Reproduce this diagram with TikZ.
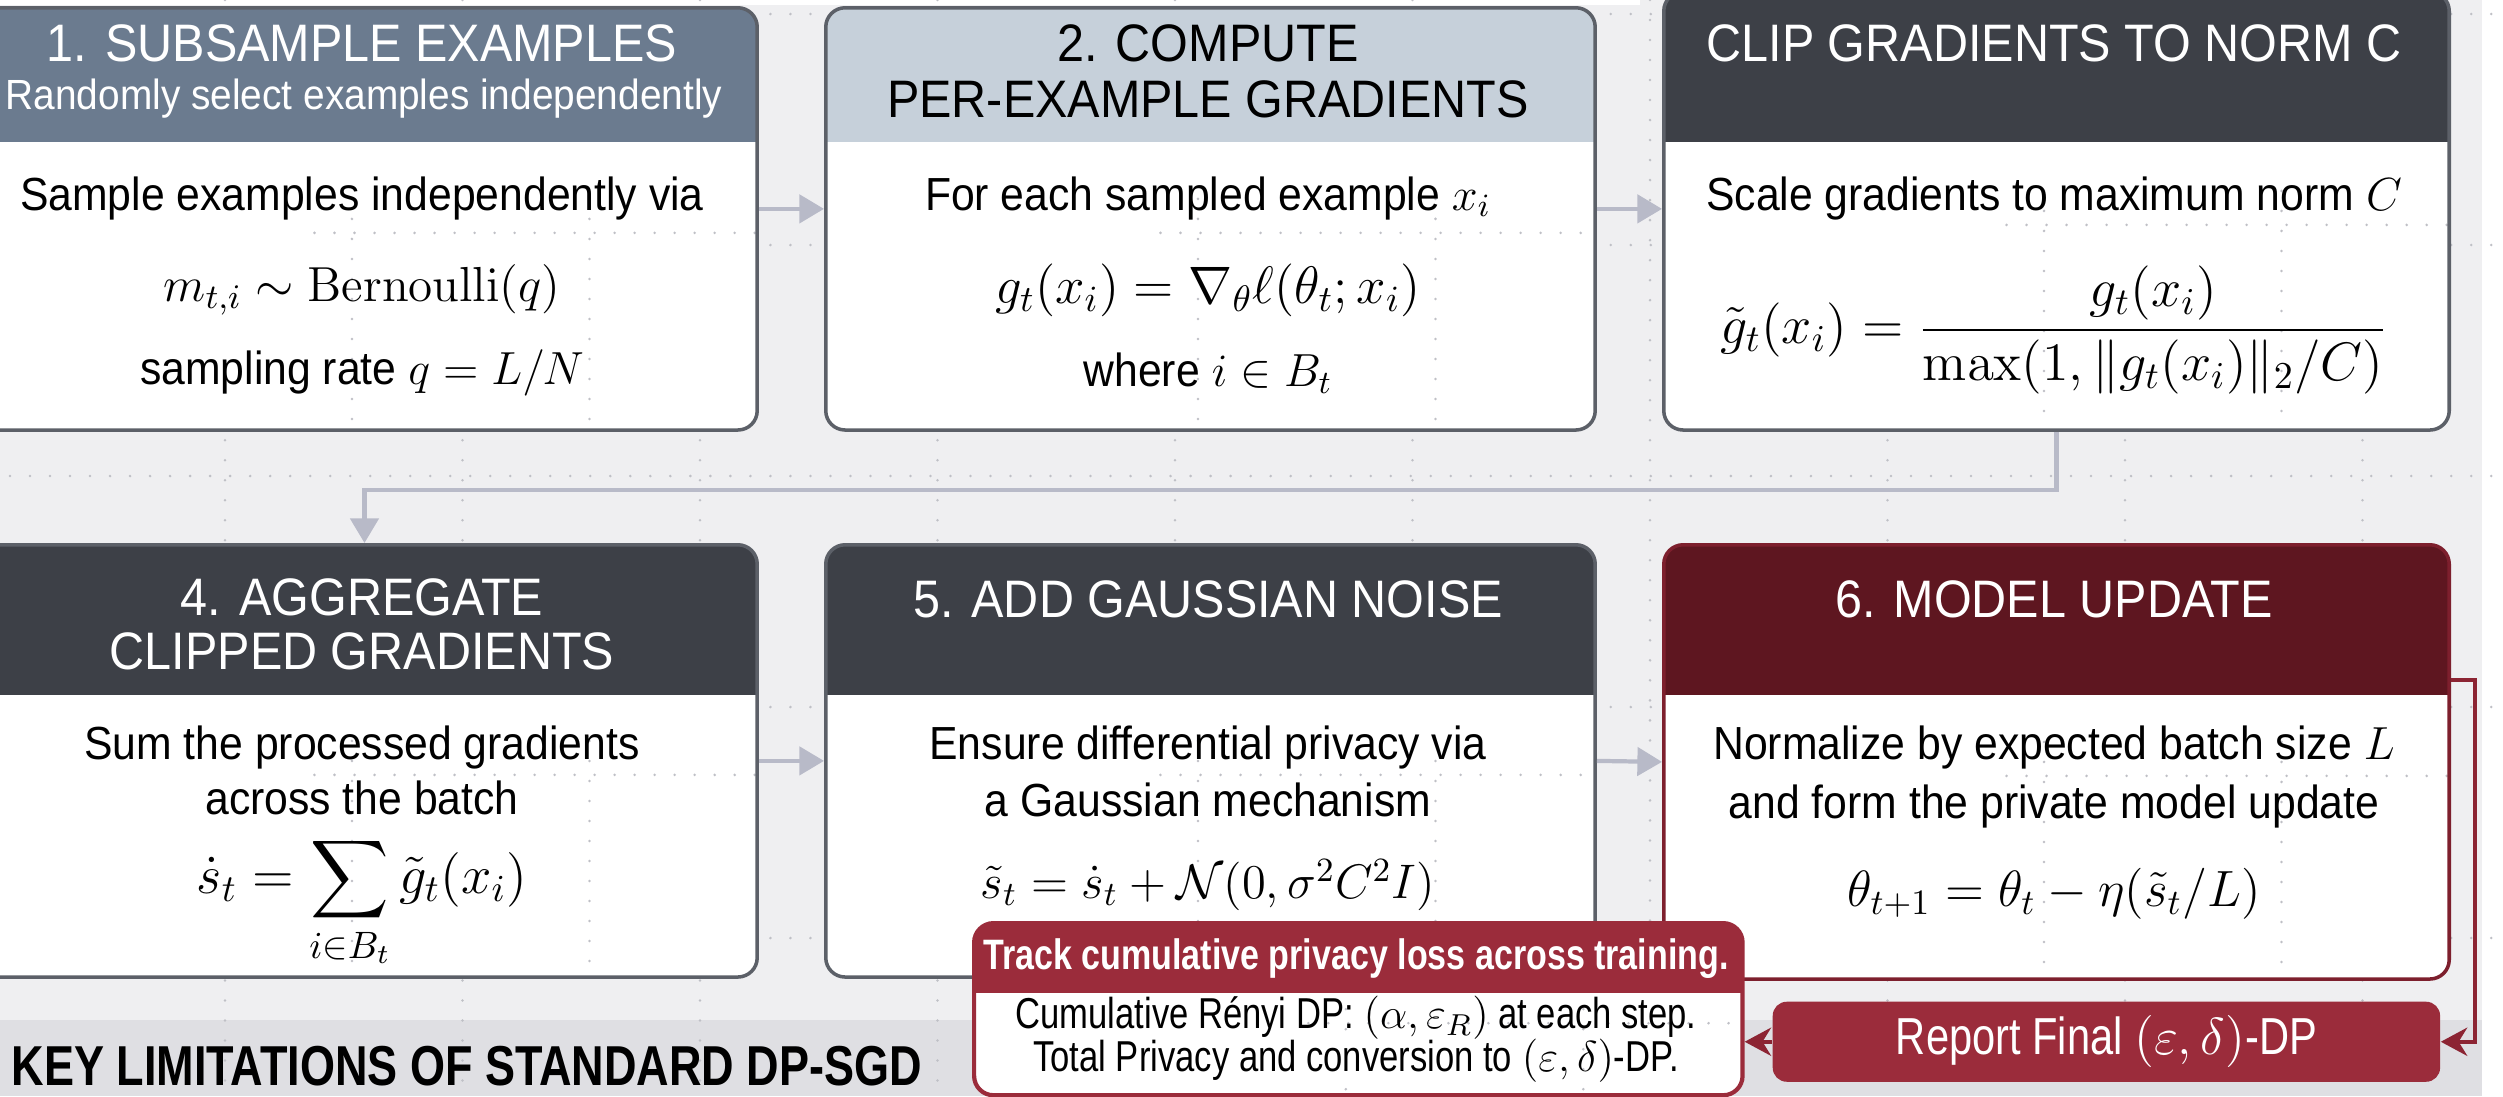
\RequirePackage{fix-cm}
\documentclass[tikz,border=0pt]{standalone}
\usepackage{amsmath,amssymb}
\usepackage[no-math]{fontspec}
\setmainfont{Liberation Sans}[FakeStretch=0.92]
\newfontfamily\condfont{Liberation Sans}[FakeStretch=0.8]
\usetikzlibrary{arrows.meta}

\definecolor{bgc}{HTML}{EFEFF1}
\definecolor{bandc}{HTML}{DFDFE3}
\definecolor{gridc}{HTML}{BFC0C6}
\definecolor{cardedge}{HTML}{5C6068}
\definecolor{hdrslate}{HTML}{6B7B8F}
\definecolor{hdrpale}{HTML}{C6D0DA}
\definecolor{hdrdark}{HTML}{3D4047}
\definecolor{hdrwine}{HTML}{5E1620}
\definecolor{wineedge}{HTML}{7D1F2D}
\definecolor{crimson}{HTML}{9B2C3B}
\definecolor{flowc}{HTML}{B8BAC8}
\definecolor{redline}{HTML}{8C2433}

% dotted layout grid
\newcommand\gridlines{%
  \foreach \gx in {-12.5,225,...,2400} \draw[gridline] (\gx,-20) -- (\gx,1120);
  \foreach \gy in {14,245,...,1100} \draw[gridline] (-50,\gy) -- (2560,\gy);
}

\tikzset{
  gridline/.style={draw=gridc, line width=0.8pt, line cap=round, dash pattern=on 0pt off 5.69pt},
  hdr fill/.store in=\hdrfill, hdr height/.store in=\hdrheight,
  hdr fill=white, hdr height=0cm,
  card/.style={rectangle, anchor=north west, inner sep=0pt, rounded corners=5.5pt,
    fill=white, draw=cardedge, line width=1pt,
    path picture={\gridlines
      \fill[sharp corners, fill=\hdrfill] (path picture bounding box.north west)
        rectangle ([yshift=-\hdrheight]path picture bounding box.north east);}},
  hdtext/.style={font=\fontsize{15}{18}\selectfont, text=white, inner sep=0pt},
  subtext/.style={font=\fontsize{12}{14}\selectfont, text=white, inner sep=0pt},
  bodytext/.style={font=\fontsize{13.2}{16}\selectfont, text=black, inner sep=0pt},
  mathtext/.style={font=\fontsize{14.5}{17}\selectfont, text=black, inner sep=0pt},
  notetext/.style={font=\condfont\fontsize{12.3}{14}\selectfont, text=black, inner sep=0pt},
  flow/.style={draw=flowc, line width=1.2pt, -{Triangle[length=7pt,width=8pt]}},
  redflow/.style={draw=redline, line width=1.2pt, -{Stealth[length=7.5pt,width=8pt]}},
}

\begin{document}
\begin{tikzpicture}[x=0.01cm,y=-0.01cm]
\path[use as bounding box] (0,0) rectangle (2503,1096);
\clip (0,0) rectangle (2503,1096);

% background, lower band and margins
\fill[bgc] (0,0) rectangle (2482,1096);
\fill[bandc] (0,1020) rectangle (2482,1096);
\fill[white] (2482,0) rectangle (2503,1096);
\fill[white] (0,0) rectangle (1640,5);
\gridlines

% step cards
\node[card, hdr fill=hdrslate, hdr height=1.34cm, minimum width=7.85cm, minimum height=4.22cm] (b1) at (-30,6) {};
\node[card, hdr fill=hdrpale, hdr height=1.34cm, minimum width=7.69cm, minimum height=4.22cm] (b2) at (824,6) {};
\node[card, hdr fill=hdrdark, hdr height=1.50cm, minimum width=7.85cm, minimum height=4.38cm] (b3) at (1662,-10) {};
\node[card, hdr fill=hdrdark, hdr height=1.50cm, minimum width=7.85cm, minimum height=4.32cm] (b4) at (-30,543) {};
\node[card, hdr fill=hdrdark, hdr height=1.50cm, minimum width=7.69cm, minimum height=4.32cm] (b5) at (824,543) {};
\node[card, draw=wineedge, hdr fill=hdrwine, hdr height=1.50cm, minimum width=7.85cm, minimum height=4.34cm] (b6) at (1662,543) {};

% card texts
\node[hdtext] (h1) at (362,43) {1. SUBSAMPLE EXAMPLES};
\node[subtext] (s1) at (364,99) {Randomly select examples independently};
\node[bodytext] (p1a) at (362,198) {Sample examples independently via};
\node[mathtext, font=\fontsize{14}{17}\selectfont] (m1) at (362,290) {$m_{t,i}\sim\mathrm{Bernoulli}(q)$};
\node[bodytext] (p1b) at (362,373) {sampling rate $q=L/N$};

\node[hdtext, text=black] (h2a) at (1208,43) {2. COMPUTE};
\node[hdtext, text=black] (h2b) at (1208,99) {PER-EXAMPLE GRADIENTS};
\node[bodytext] (p2a) at (1208,198) {For each sampled example $x_i$};
\node[mathtext, font=\fontsize{15}{18}\selectfont] (m2) at (1208,290) {$g_t(x_i)=\nabla_{\theta}\ell(\theta_t;x_i)$};
\node[bodytext] (p2b) at (1208,373) {where $i\in B_t$};

\node[hdtext] (h3) at (2054,43) {CLIP GRADIENTS TO NORM C};
\node[bodytext] (p3) at (2054,198) {Scale gradients to maximum norm $C$};
\node[mathtext, font=\fontsize{15.4}{18}\selectfont] (m3) at (2054,330) {$\displaystyle\tilde g_t(x_i)=\frac{g_t(x_i)}{\max(1,\|g_t(x_i)\|_2/C)}$};

\node[hdtext] (h4a) at (362,597) {4. AGGREGATE};
\node[hdtext] (h4b) at (362,651) {CLIPPED GRADIENTS};
\node[bodytext] (p4a) at (362,747) {Sum the processed gradients};
\node[bodytext] (p4b) at (362,798) {across the batch};
\node[mathtext, font=\fontsize{15.5}{18}\selectfont, anchor=base] (m4) at (362,893) {$\displaystyle\dot s_t=\sum_{i\in B_t}\tilde g_t(x_i)$};

\node[hdtext] (h5) at (1208,599) {5. ADD GAUSSIAN NOISE};
\node[bodytext] (p5a) at (1208,747) {Ensure differential privacy via};
\node[bodytext] (p5b) at (1208,800) {a Gaussian mechanism};
\node[mathtext, font=\fontsize{13.8}{16}\selectfont] (m5) at (1208,885) {$\tilde s_t=\dot s_t+\mathcal{N}(0,\sigma^2C^2I)$};

\node[hdtext] (h6) at (2054,599) {6. MODEL UPDATE};
\node[bodytext] (p6a) at (2054,747) {Normalize by expected batch size $L$};
\node[bodytext] (p6b) at (2054,806) {and form the private model update};
\node[mathtext] (m6) at (2054,894) {$\theta_{t+1}=\theta_t-\eta(\tilde s_t/L)$};

% privacy accounting
\node[card, draw=crimson, line width=1.2pt, hdr fill=crimson, hdr height=0.70cm, minimum width=7.68cm, minimum height=1.72cm] (trk) at (972,921) {};
\node[font=\condfont\bfseries\fontsize{12.1}{14}\selectfont, text=white, inner sep=0pt] (trkh) at (1356,959) {Track cumulative privacy loss across training.};
\node[notetext] (trka) at (1356,1018) {Cumulative Rényi DP: $(\alpha,\varepsilon_R)$ at each step.};
\node[notetext] (trkb) at (1356,1061) {Total Privacy and conversion to $(\varepsilon,\delta)$-DP.};

\node[rectangle, anchor=north west, rounded corners=4pt, fill=crimson, minimum width=6.67cm, minimum height=0.80cm, inner sep=0pt] (rep) at (1772,1001) {};
\node[font=\condfont\fontsize{14.8}{17}\selectfont, text=white, inner sep=0pt] (rept) at (rep.center) {Report Final $(\varepsilon,\delta)$-DP};

\node[font=\condfont\bfseries\fontsize{16}{18}\selectfont, anchor=west, inner sep=0pt] (lim) at (11,1066) {KEY LIMITATIONS OF STANDARD DP-SGD};

% connectors
\draw[flow] ([yshift=0.1cm]b1.east) -- ([yshift=0.1cm]b2.west);
\draw[flow] ([yshift=0.1cm]b2.east) -- ([yshift=0.1cm]b3.west |- b2.east);
\draw[flow] (b3.south) -- ++(0,58) -| (b4.north);
\draw[flow] (b4.east) -- (b5.west);
\draw[flow] (b5.east) -- (b6.west);
\draw[redflow] ([yshift=0.82cm]b6.east) -- ++(24,0) |- (rep.east);
\draw[redflow] (rep.west) -- (rep.west -| trk.east);
\end{tikzpicture}
\end{document}
